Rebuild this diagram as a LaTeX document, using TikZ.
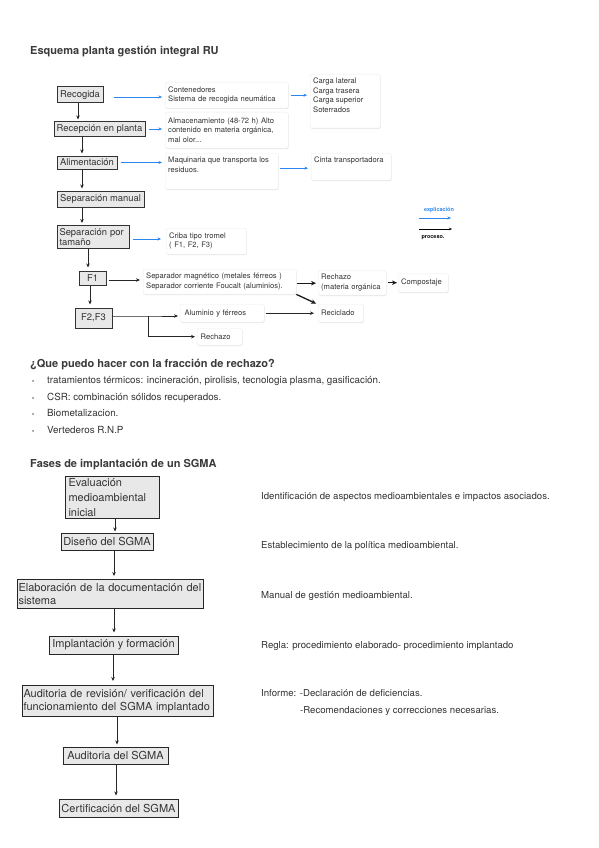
\documentclass[tikz,border=0pt]{standalone}
\usepackage{fontspec}
\setmainfont{TeX Gyre Heros}
\usetikzlibrary{arrows.meta,shadows}
\definecolor{txt}{HTML}{333333}
\definecolor{ttl}{HTML}{3A3A3A}
\definecolor{bl}{HTML}{2B86F0}
\definecolor{boxgray}{HTML}{E8E8E8}
\newcommand{\fs}[2]{\fontsize{#1}{#2}\selectfont}
\begin{document}
\begin{tikzpicture}[x=1pt,y=-1pt,
  procbox/.style={draw=black!80, line width=1pt, fill=boxgray, inner sep=1pt, text=txt, font=\fs{9.4}{10.5}, align=left},
  note/.style={draw=black!7, fill=white, rounded corners=2pt, drop shadow={opacity=0.18, shadow xshift=0.5pt, shadow yshift=-0.8pt}, text=txt, font=\fs{7.6}{9.5}, align=left, inner xsep=3pt, inner ysep=2pt},
  sgbox/.style={draw=black!85, line width=1pt, fill=boxgray, inner sep=1pt, text=txt, font=\fs{11}{15}, align=left},
  barrow/.style={draw=bl, line width=0.7pt, -{Stealth[length=3.5pt,width=3pt]}},
  karrow/.style={draw=black!85, line width=0.8pt, -{Stealth[length=4pt,width=3.5pt]}},
  tarrow/.style={draw=black!90, line width=1.3pt, -{Stealth[length=5pt,width=4.5pt]}},
  plain/.style={text=txt, font=\fs{9.6}{11}, inner sep=0pt},
  blist/.style={text=txt, font=\fs{9.8}{11}, inner sep=0pt},
  head/.style={text=ttl, font=\bfseries\fs{11}{13}, inner sep=0pt}
]
\useasboundingbox[fill=white] (0,0) rectangle (599,848);

% ---------- Section 1 ----------
\node[head, anchor=base west] (t1) at (30,55) {Esquema planta gestión integral RU};

\node[procbox, minimum width=46pt, minimum height=16pt, align=center] (recog) at (80,95) {Recogida};
\node[procbox, minimum width=91pt, minimum height=14pt, align=center] (recep) at (99.5,129) {Recepción en planta};
\node[procbox, minimum width=60pt, minimum height=13pt, align=center] (alim) at (87,162.5) {Alimentación};
\node[procbox, minimum width=87pt, minimum height=16pt, align=center] (sepman) at (100.5,199) {Separación manual};
\node[procbox, anchor=north west, text width=68pt, minimum height=23pt, inner xsep=2pt] (septam) at (57,225) {Separación por\\tamaño};
\node[procbox, minimum width=27pt, minimum height=14pt, align=center] (f1) at (92.5,278) {F1};
\node[procbox, minimum width=37pt, minimum height=20pt, align=center] (f23) at (93.5,318) {F2,F3};

\node[note, anchor=north west, text width=117pt, minimum height=26pt] (cont) at (165,82) {Contenedores\\Sistema de recogida neumática};
\node[note, anchor=north west, inner ysep=4pt] (carga) at (310,74) {\parbox[t][46pt][t]{64pt}{Carga lateral\\Carga trasera\\Carga superior\\Soterrados}};
\node[note, anchor=north west, text width=117pt, minimum height=36pt] (alm) at (165,112) {Almacenamiento (48-72 h) Alto\\contenido en materia orgánica,\\mal olor...};
\node[note, anchor=north west, inner ysep=4pt] (maq) at (165,153) {\parbox[t][28pt][t]{107pt}{Maquinaria que transporta los\\residuos.}};
\node[note, anchor=north west, inner ysep=4pt] (cinta) at (311,153) {\parbox[t][19pt][t]{74pt}{Cinta transportadora}};
\node[note, anchor=north west, text width=74pt, minimum height=26pt] (criba) at (166,228) {Criba tipo tromel\\( F1, F2, F3)};
\node[note, anchor=north west, text width=147pt, minimum height=25pt] (sepmag) at (143,269) {Separador magnético (metales férreos )\\Separador corriente Foucalt (aluminios).};
\node[note, anchor=north west, text width=62pt, minimum height=25pt] (rechmo) at (318,270) {Rechazo\\(materia orgánica};
\node[note, anchor=north west, text width=44pt, minimum height=19pt, inner xsep=3pt] (compost) at (398,273) {Compostaje};
\node[note, anchor=north west, text width=75pt, minimum height=18pt, inner xsep=4.5pt] (alu) at (180,304) {Aluminio y férreos};
\node[note, anchor=north west, text width=39pt, minimum height=18pt] (recic) at (318,304) {Reciclado};
\node[note, anchor=north west, text width=38pt, minimum height=17pt, inner xsep=3.5pt] (rech2) at (197,328) {Rechazo};

% blue arrows
\draw[barrow, shorten <=10pt, shorten >=3pt] ([yshift=-2pt]recog.east) -- ([yshift=-2pt]recog.east -| cont.west);
\draw[barrow, shorten <=3pt, shorten >=3pt] (cont.east) -- (cont.east -| carga.west);
\draw[barrow, shorten <=3pt, shorten >=3pt] (recep.east) -- (recep.east -| alm.west);
\draw[barrow, shorten <=3pt, shorten >=3pt] (alim.east) -- (alim.east -| maq.west);
\draw[barrow, shorten <=2pt, shorten >=3pt] ([yshift=3pt]maq.east) -- ([yshift=3pt]maq.east -| cinta.west);
\draw[barrow, shorten <=3pt, shorten >=5pt] ([yshift=-2pt]septam.east) -- ([yshift=-2pt]septam.east -| criba.west);

% black process arrows
\draw[karrow, shorten >=2pt] ([xshift=-2pt]recog.south) -- ([xshift=-2pt]recog.south |- recep.north);
\draw[karrow, shorten >=2pt] ([xshift=-5pt]alim.north |- recep.south) -- ([xshift=-5pt]alim.north);
\draw[karrow, shorten >=2pt] ([xshift=-5pt]alim.south) -- ([xshift=-5pt]alim.south |- sepman.north);
\draw[karrow, shorten >=2pt] ([xshift=-5pt]alim.south |- sepman.south) -- ([xshift=-5pt]alim.south |- septam.north);
\draw[karrow, shorten >=3pt] ([xshift=-4.5pt]f1.north |- septam.south) -- ([xshift=-4.5pt]f1.north);
\draw[karrow, shorten >=3pt] ([xshift=-2.5pt]f1.south) -- ([xshift=-2.5pt]f1.south |- f23.north);
\draw[karrow, shorten <=2pt, shorten >=3pt] ([yshift=-2pt]f1.east) -- ([yshift=-2pt]f1.east -| sepmag.west);
\coordinate (br) at (148,316);
\draw[karrow, shorten >=2pt] (f23.east |- br) -- (br) -- (br -| alu.west);
\draw[karrow, shorten >=2pt] (br) |- (rech2.west);
\draw[karrow, shorten <=2pt, shorten >=4pt] (alu.east) -- (alu.east -| recic.west);
\draw[tarrow, shorten <=1pt, shorten >=2pt] ([yshift=-1.5pt]sepmag.east) -- ([yshift=-1.5pt]sepmag.east -| rechmo.west);
\draw[tarrow, shorten >=1pt] (sepmag.south east) -- ([xshift=-1pt]recic.north west);
\draw[tarrow, shorten <=2pt, shorten >=1pt] (rechmo.east) -- (rechmo.east -| compost.west);

% legend
\coordinate (lb1) at (419,218);
\coordinate (lb2) at (451,218);
\coordinate (lk1) at (419,229);
\coordinate (lk2) at (452,229);
\draw[barrow] (lb1) -- (lb2);
\draw[draw=black, line width=0.6pt, -{Stealth[length=3pt,width=2.5pt]}] (lk1) -- (lk2);
\node[text=bl, font=\bfseries\fs{5.5}{6}, inner sep=0pt, anchor=base] (lbt) at (439,211) {explicación};
\node[text=black, font=\bfseries\fs{5.5}{6}, inner sep=0pt, anchor=base] (lkt) at (433,238) {proceso.};

% ---------- Section 2 ----------
\node[head, anchor=base west] (t2) at (30,367) {¿Que puedo hacer con la fracción de rechazo?};
\foreach \yy/\tt [count=\i] in {383/{tratamientos térmicos: incineración, pirolisis, tecnologia plasma, gasificación.},
  400/{CSR: combinación sólidos recuperados.},
  416/{Biometalizacion.},
  433/{Vertederos R.N.P}}{
  \node[blist, anchor=base west] (b\i) at (32,\yy) {\fs{6}{7}\textbullet};
  \node[blist, anchor=base west] (l\i) at (47,\yy) {\tt};
}

% ---------- Section 3 ----------
\node[head, anchor=base west] (t3) at (30,467) {Fases de implantación de un SGMA};

\node[sgbox, anchor=north west, text width=88pt, minimum height=42pt, inner xsep=3pt] (eval) at (65,476) {Evaluación\\medioambiental\\inicial};
\node[sgbox, minimum width=92pt, minimum height=17pt, align=center] (dis) at (107,541.5) {Diseño del SGMA};
\node[sgbox, anchor=north west, text width=184pt, minimum height=29pt, inner xsep=1pt, font=\fs{11}{13}] (elab) at (17,579) {Elaboración de la documentación del\\sistema};
\node[sgbox, minimum width=129pt, minimum height=18pt, align=center] (impl) at (113.5,645) {Implantación y formación};
\node[sgbox, anchor=north west, text width=189pt, minimum height=31pt, inner xsep=1pt, font=\fs{11}{13.5}] (audrev) at (22,685) {Auditoria de revisión/ verificación del\\funcionamiento del SGMA implantado};
\node[sgbox, minimum width=105pt, minimum height=17pt, align=center] (aud) at (115.5,755.5) {Auditoria del SGMA};
\node[sgbox, minimum width=119pt, minimum height=18pt, align=center] (cert) at (118.5,808) {Certificación del SGMA};

\draw[karrow, shorten >=1pt] ([xshift=2.5pt]eval.south) -- ([xshift=2.5pt]eval.south |- dis.north);
\draw[karrow, shorten >=3pt] ([xshift=7pt]dis.south) -- ([xshift=7pt]dis.south |- elab.north);
\draw[karrow, shorten >=3pt] ([xshift=7pt]dis.south |- elab.south) -- ([xshift=7pt]dis.south |- impl.north);
\draw[karrow, shorten >=4pt] ([xshift=-0.5pt]impl.south) -- ([xshift=-0.5pt]impl.south |- audrev.north);
\draw[karrow, shorten >=2pt] ([xshift=1.5pt]aud.north |- audrev.south) -- ([xshift=1.5pt]aud.north);
\draw[karrow, shorten >=3pt] ([xshift=-2.5pt]cert.north |- aud.south) -- ([xshift=-2.5pt]cert.north);

\node[plain, anchor=base west] (r1) at (261,499) {Identificación de aspectos medioambientales e impactos asociados.};
\node[plain, anchor=base west] (r2) at (261,548) {Establecimiento de la política medioambiental.};
\node[plain, anchor=base west] (r3) at (261,598) {Manual de gestión medioambiental.};
\node[plain, anchor=base west] (r4) at (261,648) {Regla: procedimiento elaborado- procedimiento implantado};
\node[plain, anchor=base west] (r5) at (261,696) {Informe: -Declaración de deficiencias.};
\node[plain, anchor=base west] (r6) at (300,713) {-Recomendaciones y correcciones necesarias.};
\end{tikzpicture}
\end{document}
